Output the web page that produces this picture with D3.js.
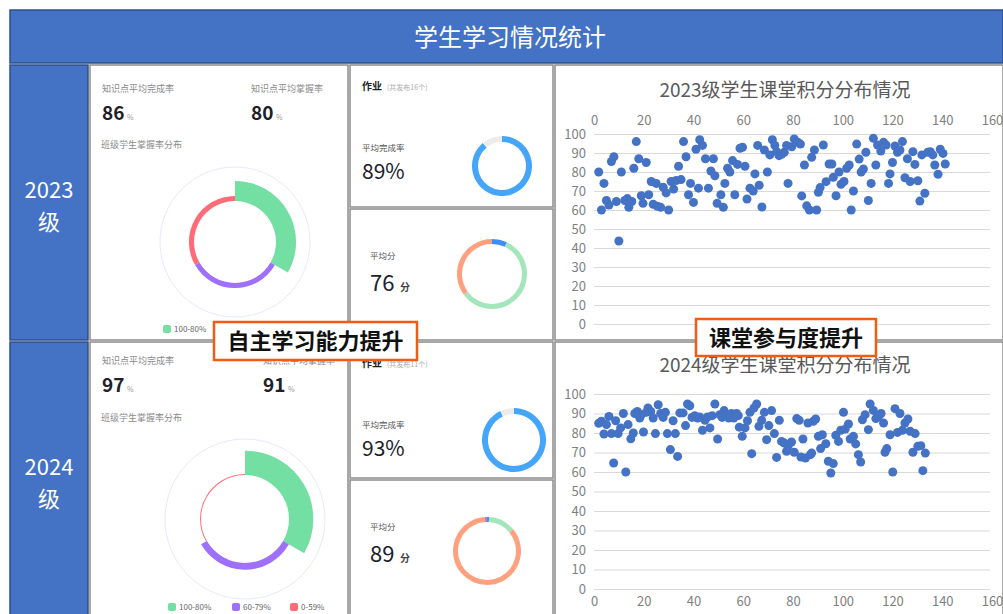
<!DOCTYPE html>
<html><head><meta charset="utf-8">
<script src="https://cdn.jsdelivr.net/npm/d3@7"></script>
<style>
body{margin:0;background:#fff}
svg{display:block}
text{font-family:"Noto Sans CJK SC","Noto Sans",sans-serif}
</style>
</head><body>
<svg id="chart" width="1003" height="614"></svg>
<script>
// ---- data ----
var grades = ["2023", "2024"];
var completionRate = [86, 97];
var masteryRate = [80, 91];
var masteryBands = ["100-80%", "60-79%", "0-59%"];
var masteryShare2023 = [67, 17, 17];
var masteryShare2024 = [76, 21, 3];
var homeworkCount = [16, 11];
var homeworkDone = [89, 93];
var avgScore = [76, 89];
var scoreShare2023 = [7, 58, 35];
var scoreShare2024 = [1, 13, 85, 1];
var xTicks = [0, 20, 40, 60, 80, 100, 120, 140, 160];
var yTicks = [0, 10, 20, 30, 40, 50, 60, 70, 80, 90, 100];

var score2023 = [[1.9,80],[3,60],[4,74],[5,65],[6,62.6],[7,85.5],[8,88],[9,64.5],[10,43.7],[11,80],[12.4,65],[13.4,66],[14,61.4],[15.2,64.5],[16,82],[17,96],[18,87],[19,67.5],[19.7,63.5],[21,85],[22,68],[23,75],[23.8,63],[25,74],[25.5,62],[26.8,61.4],[27.8,72],[29,69],[30,60],[31,75],[32,71],[33,75.5],[34,83],[35,76],[36,96],[37,88],[38,68],[38.8,74],[40,64],[41,92],[42,71.5],[42.5,97],[43.6,94],[44.8,87],[46,71.5],[47,80.5],[48,87],[48.6,78],[49.5,63.5],[51,68],[52,61.4],[52.6,74],[53.7,82],[54.6,80],[55.7,86],[56.6,68],[57.7,84],[58.7,92.5],[59.7,93],[60.7,83],[61.5,65.8],[62.7,71.5],[64,70],[64.7,79],[65.8,94],[66.4,73],[67.5,61.6],[68.5,91.6],[69.7,80],[70.7,89],[71.7,97],[72.7,94],[73.4,90.7],[74.4,88.6],[75.4,89.3],[76.5,90.4],[77.4,94],[78,74],[79.5,93.3],[80.5,97.4],[81.9,95.6],[83,94.7],[83.5,67.4],[84.6,83.7],[85.5,62.2],[86.6,60],[87.5,87.7],[88.6,91.6],[89.5,60],[90.2,69.3],[90.9,71.8],[92.2,94.2],[93.3,74.9],[94.5,84.2],[95.6,84.2],[96.2,77.2],[97.3,67.5],[98.5,80],[99.3,73.5],[100.5,75],[101.6,82],[102.6,83.7],[103.4,60],[104.3,70],[105.6,94.7],[106.6,86.8],[107.4,80],[108.3,81.6],[109.3,90.4],[110.3,65],[111.4,74],[112.3,97.7],[113.3,83.7],[114,94.2],[115.3,91],[116.4,95.6],[117.4,94.2],[118.4,74],[119,79],[120,85],[121,93.7],[122,90.4],[123,91.6],[124,96],[125,77],[126,87],[127.1,75],[128.2,90.7],[129,84],[130.2,75.4],[131,64.7],[131.8,89],[133,68.8],[134.2,90.4],[135.2,90.7],[136.2,89],[137,83.7],[138.3,78.8],[139.2,92],[140.3,89.8],[141.2,84.2]];

var score2024 = [[1.9,85],[3,86],[4,79.5],[5,84.3],[6,88.5],[7,79.7],[7.9,64.6],[8.7,86.3],[9.7,79.7],[10.7,82.6],[11.8,90],[12.8,60],[13.7,84.3],[14.8,77],[15.8,80],[16.4,90],[17.4,91],[18.4,87.7],[19,89.4],[19.9,80.5],[21,90.6],[21.7,92.8],[22.8,91],[23.8,87.7],[24.7,79.7],[25.8,94.5],[26.8,90],[27.8,88],[28.7,90.6],[29.5,79.7],[30.7,71.5],[31.8,86.3],[32.7,79.7],[33.6,68],[34.5,90.3],[35.8,90.3],[36.8,83.8],[37.6,94.9],[38.5,94],[39.4,88],[40.5,88.9],[41.6,87.7],[42.5,88.2],[43.6,81.4],[44.6,86.5],[45.6,88.2],[46.6,82.6],[47.5,88.9],[48.6,94.9],[49.7,76.9],[50.6,89.4],[51.5,88],[52.3,91.5],[53.3,89.4],[54.2,87.7],[55.3,90],[56.2,87.7],[57.3,90],[58,88.9],[58.4,83],[59.6,78.3],[60.7,82.6],[61.7,86.3],[62.7,90.6],[63.4,69.4],[64.3,92.8],[65.4,94.9],[66.3,83.4],[67.4,86.5],[68.5,90.6],[69.4,76.6],[70.3,83.8],[71.4,91.5],[72.5,79.7],[73.4,67.5],[74.5,86.5],[75.4,75.7],[76.5,74.9],[77.4,70.6],[78,73.2],[79.4,75.4],[80.5,70.1],[81.5,87.4],[82.5,86.5],[83.2,67.7],[84,76.9],[85,67.2],[86,85.1],[87,68.9],[87.5,69.7],[88.2,86],[89.1,87.2],[90.2,78.3],[91.1,72],[91.8,79.1],[93.2,74.5],[94.2,65.5],[95.2,59.5],[96.2,64.3],[97.2,78.8],[98.3,75.7],[99.2,81.4],[100.3,90.6],[101,82],[102.3,84.6],[103,76.9],[104.3,78.3],[105.2,74.4],[106.3,68.9],[107.2,65.1],[107.9,86.8],[109,89.4],[110.3,81.7],[111,94.9],[112.3,91.6],[113.3,87.4],[114.4,88.5],[115.4,90],[116.4,85.1],[117,70.1],[117.7,72],[119,79.1],[120.1,60],[121,92.5],[122,80.3],[123,90],[124,81.4],[125,85.1],[126.2,87.2],[127.1,80.9],[128.2,70.1],[129.1,79.7],[130.2,73.2],[131.4,73.5],[132.2,60.7],[133.2,69.7]];

var masteryColors = ["#74dfa2", "#9f70fb", "#ff6b76"];
var scoreColors = ["#3e8ef7", "#a3e6bc", "#ffa07e", "#d070d0"];
var blue = "#4472c4";

var svg = d3.select("#chart");

function box(x, y, w, h, fill) {
    svg.append("rect").attr("x", x).attr("y", y).attr("width", w).attr("height", h)
        .attr("fill", fill).attr("stroke", "#8c8c8c").attr("stroke-width", 1.5);
}

function label(x, y, str, size, color, weight, anchor) {
    return svg.append("text").attr("x", x).attr("y", y).text(str)
        .attr("font-size", size).attr("fill", color)
        .attr("font-weight", weight || 400).attr("text-anchor", anchor || "start");
}

// header
svg.append("rect").attr("x", 10).attr("y", 10).attr("width", 993).attr("height", 53)
    .attr("fill", blue).attr("stroke", "#2f4f8a").attr("stroke-width", 1.5);
label(510, 46, "学生学习情况统计", 24, "#fff", 400, "middle");

// row frames
var rows = [{y: 65, h: 275}, {y: 342, h: 274}];
rows.forEach(function (r, i) {
    svg.append("rect").attr("x", 10).attr("y", r.y).attr("width", 78).attr("height", r.h)
        .attr("fill", blue).attr("stroke", "#2f4f8a").attr("stroke-width", 1.5);
    label(49, r.y + 133, grades[i], 22, "#fff", 400, "middle");
    label(49, r.y + 165, "级", 22, "#fff", 400, "middle");
    box(90, r.y, 258, r.h, "#fff");
    box(555, r.y, 448, r.h, "#fff");
});
box(350, 65, 203, 142, "#fff");
box(350, 209, 203, 131, "#fff");
box(350, 342, 203, 136, "#fff");
box(350, 480, 203, 136, "#fff");

// ---- knowledge panels (rose donut) ----
var knowLayout = [
    {ty: 92, ny: 120, dy: 148, col2: 251, cx: 235, cy: 242, R: 75, inner: 41, k: 0.3, ly: 329, lx: [163, 227, 285], shown: 1},
    {ty: 364, ny: 392, dy: 421, col2: 263, cx: 245, cy: 519, R: 80, inner: 44, k: 0.32, ly: 607, lx: [168, 232, 290], shown: 3}
];
var masteryShares = [masteryShare2023, masteryShare2024];

knowLayout.forEach(function (L, i) {
    label(102, L.ty, "知识点平均完成率", 9, "#8a8a8a");
    label(L.col2, L.ty, "知识点平均掌握率", 9, "#8a8a8a");
    label(102, L.ny, completionRate[i], 19, "#1d2129", 700).attr("font-family", "Roboto");
    label(102 + 25, L.ny, "%", 7, "#999");
    label(L.col2, L.ny, masteryRate[i], 19, "#1d2129", 700).attr("font-family", "Roboto");
    label(L.col2 + 25, L.ny, "%", 7, "#999");
    label(101, L.dy, "班级学生掌握率分布", 9, "#8a8a8a");

    var g = svg.append("g").attr("transform", "translate(" + L.cx + "," + L.cy + ")");
    g.append("circle").attr("r", L.R).attr("fill", "none").attr("stroke", "#e6e9fc").attr("stroke-width", 1);

    var pie = d3.pie().sort(null).value(function () { return 1; });
    var arc = d3.arc().innerRadius(L.inner)
        .outerRadius(function (d) { return L.inner + d.data * L.k; });
    g.selectAll("path").data(pie(masteryShares[i])).enter().append("path")
        .attr("d", arc).attr("fill", function (d, j) { return masteryColors[j]; });

    // legend (in the 2023 panel the last two entries sit under the callout)
    masteryBands.slice(0, L.shown).forEach(function (b, j) {
        svg.append("rect").attr("x", L.lx[j]).attr("y", L.ly - 4).attr("width", 8).attr("height", 8)
            .attr("rx", 2).attr("fill", masteryColors[j]);
        label(L.lx[j] + 11, L.ly + 3, b, 8, "#666");
    });
});

// ---- homework / score cards ----
function ring(cx, cy, r0, r1, values, colors) {
    var g = svg.append("g").attr("transform", "translate(" + cx + "," + cy + ")");
    var pie = d3.pie().sort(null);
    var arc = d3.arc().innerRadius(r0).outerRadius(r1);
    g.selectAll("path").data(pie(values)).enter().append("path")
        .attr("d", arc).attr("fill", function (d, j) { return colors[j]; });
}

var hwLayout = [{y: 65, cx: 502, cy: 166, r: 30}, {y: 342, cx: 514, cy: 440, r: 32}];
hwLayout.forEach(function (L, i) {
    label(362, L.y + 25, "作业", 10, "#222", 700);
    label(387, L.y + 25, "(共发布" + homeworkCount[i] + "个)", 7, "#aaa");
    label(362, L.y + 86, "平均完成率", 8.5, "#555");
    label(362, L.y + 114, homeworkDone[i] + "%", 21, "#1d2129").attr("font-family", "Roboto");
    ring(L.cx, L.cy, L.r - 6, L.r, [homeworkDone[i], 100 - homeworkDone[i]], ["#45a5f8", "#ececec"]);
});

var scoreShares = [scoreShare2023, scoreShare2024];
var scLayout = [{y: 209, cx: 492, cy: 274, r: 35}, {y: 480, cx: 487, cy: 551, r: 34}];
scLayout.forEach(function (L, i) {
    label(370, L.y + 50, "平均分", 8.5, "#555");
    label(370, L.y + 82, avgScore[i], 22, "#1d2129").attr("font-family", "Roboto");
    label(400, L.y + 82, "分", 10, "#444", 700);
    ring(L.cx, L.cy, L.r - 5, L.r, scoreShares[i], scoreColors);
});

// ---- scatter charts ----
var scatterLayout = [
    {title: "2023级学生课堂积分分布情况", ty: 97, top: 134, bottom: 324, xTop: true, data: score2023},
    {title: "2024级学生课堂积分分布情况", ty: 372, top: 394, bottom: 589, xTop: false, data: score2024}
];
scatterLayout.forEach(function (L) {
    var x = d3.scaleLinear().domain([0, 160]).range([594, 992]);
    var y = d3.scaleLinear().domain([0, 100]).range([L.bottom, L.top]);

    label(785, L.ty, L.title, 19, "#595959", 400, "middle");

    var gy = svg.append("g").attr("transform", "translate(594,0)")
        .call(d3.axisLeft(y).tickValues(yTicks).tickSize(-396).tickPadding(8));
    gy.select(".domain").remove();
    gy.selectAll("line").attr("stroke", "#d9d9d9");
    gy.selectAll("text").attr("fill", "#7f7f7f").attr("font-size", 13)
        .attr("font-family", "Liberation Sans");

    var gx;
    if (L.xTop) {
        gx = svg.append("g").attr("transform", "translate(0," + (L.top - 7) + ")")
            .call(d3.axisTop(x).tickValues(xTicks).tickSize(0).tickPadding(2));
    } else {
        gx = svg.append("g").attr("transform", "translate(0," + L.bottom + ")")
            .call(d3.axisBottom(x).tickValues(xTicks).tickSize(0).tickPadding(8));
    }
    gx.select(".domain").remove();
    gx.selectAll("text").attr("fill", "#7f7f7f").attr("font-size", 13)
        .attr("font-family", "Liberation Sans");

    svg.append("g").selectAll("circle").data(L.data).enter().append("circle")
        .attr("cx", function (d) { return x(d[0]); })
        .attr("cy", function (d) { return y(d[1]); })
        .attr("r", 4.5).attr("fill", blue);
});

// ---- callouts ----
function callout(x, y, w, h, str) {
    svg.append("rect").attr("x", x).attr("y", y).attr("width", w).attr("height", h)
        .attr("fill", "#fff").attr("stroke", "#f25c12").attr("stroke-width", 2.5);
    label(x + w / 2, y + h / 2 + 8, str, 22, "#111", 700, "middle");
}
callout(214, 322, 203, 38, "自主学习能力提升");
callout(696, 319, 180, 37, "课堂参与度提升");
</script>
</body></html>
